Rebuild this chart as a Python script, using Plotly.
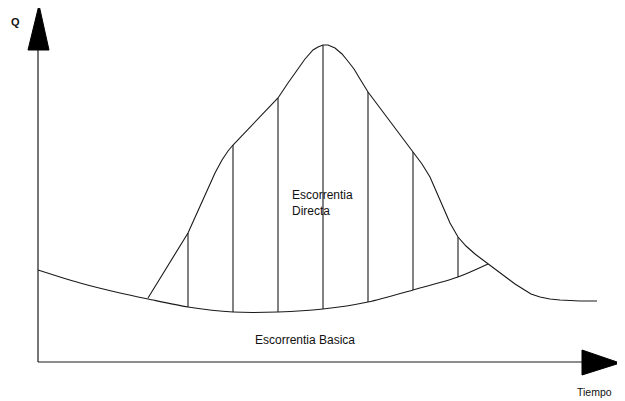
# Hidrograma: escorrentia directa y basica
import plotly.graph_objects as go

# total hydrograph (time, Q), origin at the axes corner
tiempo_total = [110, 150, 159, 169, 177, 184, 190, 195, 240, 250, 259, 267, 275, 280,
                285, 290, 297, 304, 309, 316, 322, 330, 375, 384, 392, 399, 405, 412,
                420, 428, 437, 450, 459, 469, 477, 485, 493, 502, 512, 522, 542, 559]
q_total = [64, 129, 149, 172, 189, 202, 211, 217, 264, 279, 292, 303, 312, 315,
           317, 317, 314, 308, 302, 293, 283, 270, 210, 198, 185, 169, 154, 139,
           125, 116, 108, 98, 91, 84, 78, 73, 68, 65, 63, 62, 61, 61]

# base flow curve
tiempo_base = [0, 42, 82, 110, 150, 195, 240, 285, 330, 375, 420, 450]
q_base = [92, 79, 69, 63, 55, 50, 50, 53, 60, 72, 85, 98]

# hatch lines between base flow and total hydrograph
tiempo_vert = [150, 195, 240, 285, 330, 375, 420]
q_vert_bajo = [55, 50, 50, 53, 60, 72, 85]
q_vert_alto = [129, 217, 264, 317, 270, 210, 125]

LINE = "#1a1a1a"
FONT = "Liberation Sans, Arial, sans-serif"

fig = go.Figure()

fig.add_trace(go.Scatter(x=tiempo_total, y=q_total, mode="lines",
                         line=dict(color=LINE, width=1.1), hoverinfo="skip"))
fig.add_trace(go.Scatter(x=tiempo_base, y=q_base, mode="lines",
                         line=dict(color=LINE, width=1.1, shape="spline", smoothing=0.8),
                         hoverinfo="skip"))

vx, vy = [], []
for t, lo, hi in zip(tiempo_vert, q_vert_bajo, q_vert_alto):
    vx += [t, t, None]
    vy += [lo, hi, None]
fig.add_trace(go.Scatter(x=vx, y=vy, mode="lines",
                         line=dict(color=LINE, width=1.1), hoverinfo="skip"))

# axes with filled arrow heads
fig.add_shape(type="line", x0=0, y0=0, x1=0, y1=312, line=dict(color=LINE, width=1.2))
fig.add_shape(type="line", x0=0, y0=0, x1=544, y1=0, line=dict(color=LINE, width=1.2))
fig.add_shape(type="path", path="M -10 312 L 11 312 L 1 357 Z",
              fillcolor="black", line=dict(color="black", width=1))
fig.add_shape(type="path", path="M 544 12 L 544 -13 L 582 -1 Z",
              fillcolor="black", line=dict(color="black", width=1))

txt = dict(family=FONT, size=12, color="#111")
fig.add_annotation(x=-23, y=340, text="<b>Q</b>", showarrow=False,
                   font=dict(family=FONT, size=11, color="#111"))
fig.add_annotation(x=556, y=-38, yanchor="bottom", text="Tiempo", showarrow=False,
                   font=dict(family=FONT, size=10.5, color="#111"))
fig.add_annotation(x=267, y=22, text="Escorrentia Basica", showarrow=False, font=txt)
fig.add_annotation(x=252, y=159, text="Escorrentia<br>Directa", showarrow=False,
                   xanchor="left", align="left", font=txt)

# page body has an 8px margin, so the figure is sized to fill the rest
fig.update_layout(width=617, height=393, showlegend=False,
                  margin=dict(l=0, r=0, t=0, b=0),
                  paper_bgcolor="white", plot_bgcolor="white",
                  xaxis=dict(range=[-30, 587], visible=False, fixedrange=True),
                  yaxis=dict(range=[-39, 354], visible=False, fixedrange=True))

fig.write_html("out.html")
